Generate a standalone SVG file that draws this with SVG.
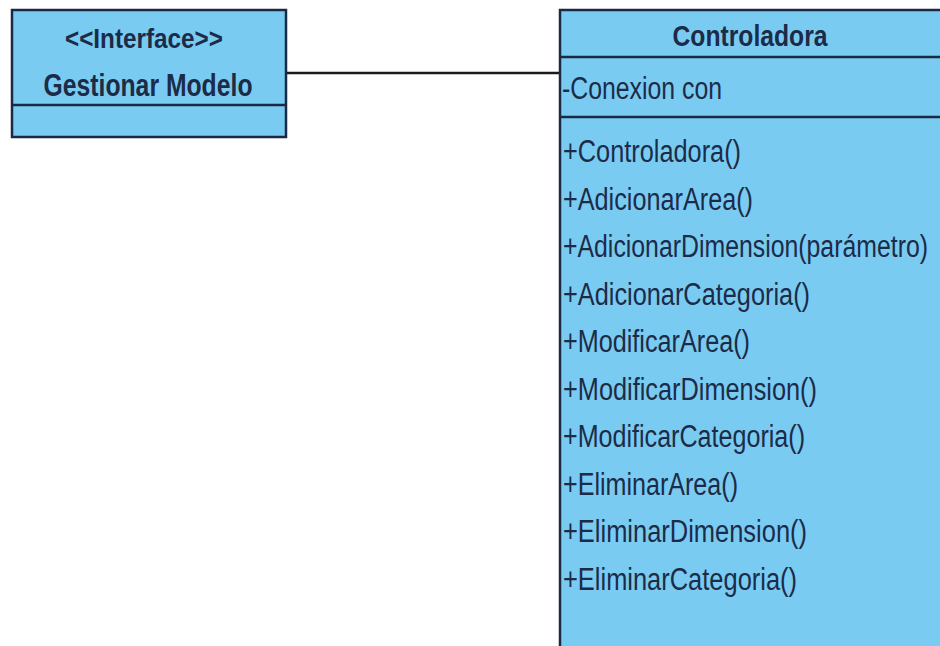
<svg xmlns="http://www.w3.org/2000/svg" width="940" height="646" viewBox="0 0 940 646">
<style>
.box{fill:#7acbf1;stroke:#1b2a44;stroke-width:2.5}
.sep{stroke:#1b2a44;stroke-width:2.5}
.t{font-family:"Liberation Sans",Arial,sans-serif;font-size:31px;fill:#1c2b48}
.b{font-weight:bold}
.conn{stroke:#1a1a1a;stroke-width:2.5;fill:none}
</style>
<rect width="940" height="646" fill="#ffffff"/>
<g id="connectors">
<line class="conn" x1="286" y1="73" x2="560" y2="73"/>
</g>
<g id="gestionar-modelo">
<rect class="box" x="12" y="10" width="274" height="127"/>
<line class="sep" x1="12" y1="105" x2="286" y2="105"/>
<text class="t b" x="144" y="48" text-anchor="middle" textLength="158" lengthAdjust="spacingAndGlyphs" style="font-size:27px">&lt;&lt;Interface&gt;&gt;</text>
<text class="t b" x="148" y="96" text-anchor="middle" textLength="209" lengthAdjust="spacingAndGlyphs">Gestionar Modelo</text>
</g>
<g id="controladora">
<rect class="box" x="560" y="10" width="400" height="700"/>
<line class="sep" x1="560" y1="57" x2="940" y2="57"/>
<line class="sep" x1="560" y1="117" x2="940" y2="117"/>
<text class="t b" x="750" y="46" text-anchor="middle" textLength="155" lengthAdjust="spacingAndGlyphs" style="font-size:29px">Controladora</text>
<text class="t" x="562" y="99" textLength="160" lengthAdjust="spacingAndGlyphs">-Conexion con</text>
<text class="t" x="563" y="162" textLength="178" lengthAdjust="spacingAndGlyphs">+Controladora()</text>
<text class="t" x="563" y="209.5" textLength="190" lengthAdjust="spacingAndGlyphs">+AdicionarArea()</text>
<text class="t" x="563" y="257" textLength="365" lengthAdjust="spacingAndGlyphs">+AdicionarDimension(parámetro)</text>
<text class="t" x="563" y="304.5" textLength="247" lengthAdjust="spacingAndGlyphs">+AdicionarCategoria()</text>
<text class="t" x="563" y="352" textLength="187" lengthAdjust="spacingAndGlyphs">+ModificarArea()</text>
<text class="t" x="563" y="399.5" textLength="254" lengthAdjust="spacingAndGlyphs">+ModificarDimension()</text>
<text class="t" x="563" y="447" textLength="242" lengthAdjust="spacingAndGlyphs">+ModificarCategoria()</text>
<text class="t" x="563" y="494.5" textLength="175" lengthAdjust="spacingAndGlyphs">+EliminarArea()</text>
<text class="t" x="563" y="542" textLength="244" lengthAdjust="spacingAndGlyphs">+EliminarDimension()</text>
<text class="t" x="563" y="589.5" textLength="234" lengthAdjust="spacingAndGlyphs">+EliminarCategoria()</text>
</g>
</svg>
